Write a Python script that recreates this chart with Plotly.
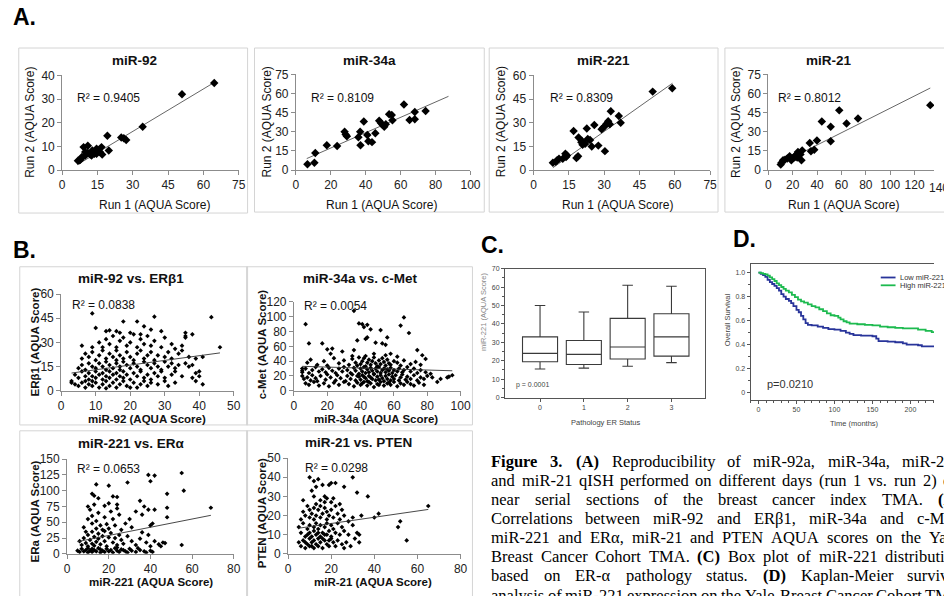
import plotly.graph_objects as go

W, H = 944, 596
def X(p): return p / W
def Y(p): return 1 - p / H

# ---------------- DATA ----------------
# Panel A: run 1 vs run 2 (AQUA score)
a92_run1 = [64.6, 50.9, 34.2, 25.1, 26.2, 27.2, 19.2, 19.8, 16.7, 16.0, 17.0, 14.6, 10.9, 9.1, 12.8, 13.7, 11.9, 10.9, 9.8, 8.4, 7.7, 6.7, 7.3, 8.4, 14.6, 12.5, 15.3, 9.8]
a92_run2 = [36.8, 32.0, 18.3, 13.8, 13.4, 12.7, 14.5, 8.3, 9.7, 7.6, 6.6, 9.0, 10.3, 9.7, 8.3, 6.9, 6.6, 7.2, 6.2, 5.5, 4.4, 3.9, 4.1, 5.2, 6.9, 6.2, 7.9, 7.6]
a34_run1 = [6.6, 10.6, 11.1, 17.7, 23.6, 27.9, 28.5, 29.2, 35.8, 36.8, 37.0, 38.9, 40.9, 41.5, 43.6, 45.5, 47.7, 48.7, 49.6, 50.6, 51.5, 53.4, 54.9, 55.3, 61.9, 65.1, 68.1, 68.1, 74.3]
a34_run2 = [4.6, 5.7, 13.4, 19.5, 18.8, 30.1, 27.8, 26.5, 25.7, 30.1, 19.5, 38.0, 27.5, 22.6, 21.9, 28.8, 38.6, 36.8, 35.5, 33.9, 36.0, 43.7, 43.2, 39.0, 51.4, 39.3, 45.5, 39.8, 46.3]
a221_run1 = [58.9, 50.6, 32.8, 36.2, 37.0, 31.7, 31.0, 32.4, 30.3, 28.9, 29.6, 30.3, 25.8, 22.6, 17.0, 19.1, 20.5, 20.3, 21.9, 23.0, 24.0, 24.7, 27.5, 20.8, 18.9, 18.2, 13.5, 13.8, 12.4, 14.2, 10.8, 9.4, 8.2, 10.0]
a221_run2 = [51.8, 49.7, 37.3, 34.2, 30.0, 31.0, 29.4, 29.0, 28.0, 25.9, 26.9, 12.0, 28.6, 26.3, 24.8, 20.7, 18.6, 17.6, 16.6, 19.7, 19.0, 14.9, 15.5, 16.0, 8.7, 7.7, 10.4, 8.3, 7.2, 9.3, 7.2, 5.2, 4.6, 6.2]
a21_run1 = [132.9, 73.6, 64.2, 58.2, 51.2, 51.2, 43.9, 39.9, 34.0, 37.7, 35.0, 27.8, 26.4, 24.3, 22.4, 21.0, 19.7, 17.5, 18.9, 15.6, 13.7, 12.1, 10.8, 10.2, 27.2, 23.7, 21.8]
a21_run2 = [50.9, 40.4, 36.5, 46.8, 33.9, 22.6, 38.0, 23.1, 21.3, 15.9, 14.7, 15.4, 12.3, 14.1, 11.6, 9.8, 9.0, 10.8, 7.7, 9.0, 8.2, 7.7, 5.7, 4.4, 7.7, 9.8, 10.3]
a_trend_x = [[6.5, 64.6], [6.2, 87.4], [8.2, 59.0], [10.2, 132.9]]
a_trend_y = [[2.3, 37.0], [9.0, 57.8], [1.5, 55.0], [5.3, 64.3]]
a_r2 = ["R² = 0.9405", "R² = 0.8109", "R² = 0.8309", "R² = 0.8012"]
a_titles = ["miR-92", "miR-34a", "miR-221", "miR-21"]

# Panel B: correlations
b1_mir92 = [3,3,4,5,6,7,7,8,9,9,10,11,12,13,13,14,15,16,17,18,19,20,21,22,23,24,25,26,28,30,31,33,
            4,5,6,7,8,8,9,10,10,11,12,12,13,14,14,15,16,16,17,18,18,19,20,21,22,23,24,25,26,27,28,29,30,32,33,35,38,39,39,40,41,40,
            5,6,7,8,9,10,11,12,13,13,14,15,16,17,17,18,19,20,21,22,23,24,25,26,27,28,29,30,31,32,33,34,36,37,38,
            6,7,8,9,10,11,12,13,14,15,16,16,17,18,19,20,21,22,23,24,25,26,27,28,30,31,32,34,35,37,39,
            6,9,11,12,13,14,15,16,17,18,19,20,21,22,23,24,25,26,27,29,30,32,35,36,33,
            9,10,13,14,16,17,18,20,22,23,24,26,27,29,36,36,38,43.5,46,41]
b1_erb1 = [5,6,4,3,5,2,6,4,3,6,5,2,4,6,1.5,3,5,2,4,6,3,2,5,2,4,6,3,5,4,6,3,5,
           10,8,12,9,11,7,9,12,8,10,7,11,9,12,8,10,7,11,9,12,8,10,7,11,9,12,8,10,7,11,9,12,8,10,12,9,8,6,11,12,4,9,
           14,16,13,17,15,14,17,15,13,18,16,14,17,15,13,18,16,14,17,15,13,18,16,14,17,15,13,18,15,17,14,16,17,15,16,
           20,23,21,24,19,22,25,20,23,21,19,25,22,20,24,21,19,23,25,20,22,24,19,22,21,24,20,23,25,21,20,
           28,27,30,27,32,29,34,27,31,33,28,30,35,27,32,29,34,28,31,27,33,29,28,33,26,
           48,39,37,37.5,37,36,43,36,43,35,40,38,46,37,36,34,35,45.7,27,21]

b2_mir34a = [36,7,39,41,44,42,46,52,64,66,69,56,38,43,44,9,17,20,23,22,36,29,49,53,55,74,77,79,86,93,95,92,5,5,
             7,9,12,15,18,21,24,27,30,33,36,38,40,42,44,46,48,50,52,54,56,58,60,62,64,66,68,70,72,75,78,41,45,51,57,
             5,6,8,10,11,13,14,16,19,20,22,25,26,28,31,32,34,35,37,39,40,41,43,44,45,47,48,49,50,51,52,53,54,55,56,57,58,59,60,61,63,64,65,67,68,70,72,74,76,78,80,83,88,46,42,38,
             5,7,9,11,13,15,17,19,21,23,25,27,29,30,32,34,36,37,39,40,41,42,43,44,45,46,47,48,49,50,51,52,53,54,55,56,57,58,59,60,62,63,65,66,68,70,72,74,76,79,82,
             8,10,14,18,20,24,27,30,33,35,37,38,39,40,41,42,43,44,45,46,47,48,49,50,51,52,53,54,55,56,57,58,60,62,64,66,70,73,76,48,55,43,35,58,62]
b2_cmet = [108,90,91,90,89,86,83,82,88,99,78,72,68,70,72,64,64,56,57,50,55,53,65,64,62,55,48,43,12,19,21,18,27,30,
           10,8,12,7,10,6,11,8,12,9,6,11,8,12,7,10,5,9,12,7,10,8,12,6,10,8,12,9,7,11,8,10,12,8,11,
           20,16,18,14,21,17,13,20,15,22,18,14,21,17,13,20,16,22,14,19,15,21,17,13,20,16,22,14,19,15,21,17,13,20,16,22,14,19,16,21,14,18,22,15,19,16,21,14,18,16,20,18,16,18,19,20,
           25,30,24,28,32,26,29,25,31,27,24,30,26,32,28,24,31,27,23,30,26,32,24,29,25,31,27,23,30,26,32,24,28,30,25,29,27,31,24,28,26,30,25,28,32,26,30,24,28,25,23,
           38,42,35,40,34,44,37,41,35,43,38,34,45,36,40,44,33,38,42,35,40,45,37,33,41,36,44,39,34,42,37,35,40,38,34,41,36,39,35,50,48,47,47,50,46]

b3_mir221 = [5,6,7,8,9,10,10,11,12,12,13,14,15,16,16,17,18,19,20,21,22,23,24,25,26,28,30,31,33,35,37,38,40,41,34,29,27,24,
             6,7,8,9,10,10,11,12,12,13,13,14,15,15,16,17,18,18,19,20,21,22,23,24,25,26,27,29,31,33,35,36,38,40,42,44,45,46,47,39,
             8,9,10,10,11,12,12,13,14,14,15,16,17,18,18,19,20,20,21,22,23,24,24,25,26,28,30,31,33,35,36,37,39,41,40,42,48,48,
             12,13,14,15,20,22,24,29,39,40,42,48,55,56,69,55]
b3_era = [5,3,8,4,6,2,9,5,3,8,6,4,9,2,7,5,3,8,4,6,2,9,5,3,7,4,8,5,3,6,4,2,5,3,9,2,6,10,
          20,14,25,17,30,12,22,16,35,27,13,19,32,24,15,28,20,36,12,26,33,18,25,14,30,22,16,28,20,14,24,34,18,12,20,15,12,18,17,30,
          42,35,55,75,70,60,48,78,40,52,65,45,38,76,58,47,80,40,67,55,45,78,72,62,38,48,55,42,67,84,62,75,70,48,45,70,58,73,
          95,92,110,88,108,91,90,113,125,115,124,95,128,100,73,14]

b4_mir21 = [5,6,7,8,9,10,10,11,12,12,13,14,14,15,16,17,18,19,20,21,22,23,25,26,27,29,31,33,8,11,16,19,
            5,6,7,8,9,10,10,11,12,12,13,13,14,15,15,16,17,17,18,19,20,20,21,22,23,24,25,26,28,30,32,33,51,52,55,9,14,18,
            6,7,8,9,10,10,11,12,12,13,14,15,15,16,17,18,18,19,20,21,22,23,24,25,26,28,30,34,40,42,65,
            7,10,11,12,12,13,14,15,16,17,18,19,20,21,22,26,30,32,37,13,17,20,24]
b4_pten = [6,4,7,3,5,8,4,6,3,7,5,8,4,6,3,7,5,4,8,6,4,7,5,3,6,4,8,6,6,4,8,7,
           14,11,16,9,13,11,15,9,14,12,10,16,13,9,15,11,14,10,16,12,9,15,13,11,16,10,14,12,10,15,11,10,14,17,7,10,11,10,
           18,22,20,25,19,23,21,24,18,20,23,19,25,21,24,18,22,20,23,19,25,21,18,23,20,17,19,20,19,21,25,
           28,40,33,30,38,26,39,28,36,30,29,36,37,29,37,35,40,32,30,35,27,27,26]

b_trend_x = [[3, 46], [5, 95], [5, 69], [5, 65]]
b_trend_y = [[11.0, 23.5], [33.0, 27.0], [19.3, 61.0], [13.4, 23.2]]
b_r2 = ["R² = 0.0838", "R² = 0.0054", "R² = 0.0653", "R² = 0.0298"]
b_titles = ["miR-92 vs. ERβ1", "miR-34a vs. c-Met", "miR-221 vs. ERα", "miR-21 vs. PTEN"]
b_xtitles = ["miR-92 (AQUA Score)", "miR-34a (AQUA Score)", "miR-221 (AQUA Score)", "miR-21 (AQUA Score)"]
b_ytitles = ["ERβ1 (AQUA Score)", "c-Met (AQUA Score)", "ERa (AQUA Score)", "PTEN (AQUA Score)"]

# Panel C: box plot of miR-221 by ER status
c_status = [0, 1, 2, 3]
c_low = [15.5, 16.0, 17.0, 19.0]
c_q1 = [19.5, 18.0, 21.0, 22.5]
c_median = [24.0, 23.5, 27.5, 33.0]
c_q3 = [33.0, 31.0, 43.0, 45.5]
c_high = [50.0, 46.5, 61.0, 60.5]

# Panel D: Kaplan-Meier
d_high_t = [0, 3, 6, 9, 12, 15, 18, 21, 24, 27, 30, 33, 36, 40, 44, 48, 52, 56, 60, 65, 70, 75, 80, 85, 90, 95, 100, 105, 108, 112, 116, 120, 130, 140, 150, 160, 170, 180, 190, 200, 210, 220, 228, 235]
d_high_s = [1.0, 0.995, 0.99, 0.985, 0.975, 0.96, 0.945, 0.93, 0.91, 0.895, 0.88, 0.865, 0.85, 0.835, 0.815, 0.795, 0.775, 0.76, 0.75, 0.735, 0.72, 0.71, 0.695, 0.68, 0.66, 0.645, 0.64, 0.625, 0.61, 0.595, 0.585, 0.575, 0.57, 0.565, 0.56, 0.55, 0.545, 0.54, 0.535, 0.535, 0.525, 0.515, 0.505, 0.50]
d_low_t = [0, 3, 6, 9, 12, 15, 18, 21, 24, 27, 30, 33, 36, 40, 43, 46, 50, 53, 56, 59, 62, 65, 70, 78, 85, 92, 100, 108, 115, 120, 125, 135, 150, 155, 158, 170, 180, 190, 195, 210, 215, 235]
d_low_s = [1.0, 0.99, 0.98, 0.965, 0.94, 0.92, 0.905, 0.89, 0.87, 0.85, 0.82, 0.80, 0.78, 0.765, 0.745, 0.72, 0.69, 0.67, 0.64, 0.61, 0.58, 0.565, 0.56, 0.55, 0.54, 0.53, 0.525, 0.515, 0.50, 0.49, 0.48, 0.475, 0.47, 0.45, 0.43, 0.425, 0.42, 0.41, 0.40, 0.395, 0.385, 0.38]

caption_lines = [
    ["*Figure", "*3.", "*(A)", "Reproducibility", "of", "miR-92a,", "miR-34a,", "miR-221"],
    ["and", "miR-21", "qISH", "performed", "on", "different", "days", "(run", "1", "vs.", "run", "2)", "on"],
    ["near", "serial", "sections", "of", "the", "breast", "cancer", "index", "TMA.", "*(B)"],
    ["Correlations", "between", "miR-92", "and", "ERβ1,", "miR-34a", "and", "c-Met,"],
    ["miR-221", "and", "ERα,", "miR-21", "and", "PTEN", "AQUA", "scores", "on", "the", "Yale"],
    ["Breast", "Cancer", "Cohort", "TMA.", "*(C)", "Box", "plot", "of", "miR-221", "distribution"],
    ["based", "on", "ER-α", "pathology", "status.", "*(D)", "Kaplan-Meier", "survival"],
    ["analysis", "of", "miR-221", "expression", "on", "the", "Yale", "Breast", "Cancer", "Cohort", "TMA."],
]

# ---------------- FIGURE ----------------
SANS = "Arial, Liberation Sans, sans-serif"
fig = go.Figure()
annotations = []
shapes = []

def ann(x, y, text, size, bold=False, color="#111", xanchor="center", angle=0, family=SANS, yanchor="middle"):
    if bold:
        text = "<b>" + text + "</b>"
    annotations.append(dict(x=X(x), y=Y(y), xref="paper", yref="paper", text=text, showarrow=False,
                            xanchor=xanchor, yanchor=yanchor, textangle=angle,
                            font=dict(size=size, color=color, family=family)))

def rect(x0, y0, x1, y1, color="#d4d4d4"):
    shapes.append(dict(type="rect", xref="paper", yref="paper", x0=X(x0), x1=X(x1), y0=Y(y1), y1=Y(y0),
                       line=dict(color=color, width=1), fillcolor="rgba(0,0,0,0)", layer="below"))

def excel_axes(i, xd, yd, xr, yr, xdt, ydt, tsize):
    common = dict(showline=True, linecolor="#8c8c8c", linewidth=1, ticks="outside", ticklen=4,
                  tickcolor="#8c8c8c", showgrid=False, zeroline=False,
                  tickfont=dict(size=tsize, color="#222", family=SANS))
    fig.layout["xaxis" + (str(i) if i > 1 else "")] = dict(domain=[X(xd[0]), X(xd[1])], range=xr, dtick=xdt, tick0=0,
                                                           anchor="y" + (str(i) if i > 1 else ""), **common)
    fig.layout["yaxis" + (str(i) if i > 1 else "")] = dict(domain=[Y(yd[1]), Y(yd[0])], range=yr, dtick=ydt, tick0=0,
                                                           anchor="x" + (str(i) if i > 1 else ""), **common)

def axid(i):
    return ("x" + (str(i) if i > 1 else ""), "y" + (str(i) if i > 1 else ""))

# ---- Panel A ----
ann(22, 10, "A.", 23, bold=True, color="#000")
a_x = [a92_run1, a34_run1, a221_run1, a21_run1]
a_y = [a92_run2, a34_run2, a221_run2, a21_run2]
a_boxes = [(16, 42, 248, 211), (255, 42, 488, 210), (493, 42, 725, 210), (732, 42, 960, 210)]
a_xdom = [(60, 239), (297, 474), (538, 717), (776, 944)]
a_ydom = [(70, 167), (69, 167), (70, 167), (69, 167)]
a_xr = [[0, 75], [0, 100], [0, 75], [0, 140 * (944 - 776) / (949 - 776)]]
a_yr = [[0, 40], [0, 75], [0, 60], [0, 75]]
a_xdt = [15, 20, 15, 20]
a_ydt = [10, 15, 15, 15]
a_tcx = [133, 372, 609, 838]
a_xtx = [154, 384, 623, 852]
a_ytx = [28, 268, 505, 743]
a_r2x = [73, 310, 553, 784]
for k in range(4):
    i = k + 1
    rect(*a_boxes[k])
    excel_axes(i, a_xdom[k], a_ydom[k], a_xr[k], a_yr[k], a_xdt[k], a_ydt[k], 12)
    xa, ya = axid(i)
    fig.add_trace(go.Scatter(x=a_trend_x[k], y=a_trend_y[k], mode="lines", xaxis=xa, yaxis=ya,
                             line=dict(color="#555", width=0.9), showlegend=False, cliponaxis=True))
    fig.add_trace(go.Scatter(x=a_x[k], y=a_y[k], mode="markers", xaxis=xa, yaxis=ya,
                             marker=dict(symbol="diamond", size=6.5, color="#000"), showlegend=False))
    ann(a_tcx[k], 55, a_titles[k], 13.5, bold=True)
    ann(a_xtx[k], 203, "Run 1 (AQUA Score)", 12)
    ann(a_ytx[k], 118, "Run 2 (AQUA Score)", 12, angle=-90)
    ann(a_r2x[k], 93, a_r2[k], 12, xanchor="left")
ann(949, 185, "140", 12, color="#222")

# ---- Panel B ----
ann(22, 249, "B.", 23, bold=True, color="#000")
b_x = [b1_mir92, b2_mir34a, b3_mir221, b4_mir21]
b_y = [b1_erb1, b2_cmet, b3_era, b4_pten]
b_boxes = [(17, 266, 248, 428), (247, 266, 476, 428), (17, 434, 248, 606), (247, 434, 476, 606)]
b_xdom = [(59, 234), (295, 464), (65, 234), (289, 464)]
b_ydom = [(294, 393), (302, 393), (463, 560), (462, 560)]
b_xr = [[0, 50], [0, 100], [0, 80], [0, 80]]
b_yr = [[0, 60], [0, 120], [0, 150], [0, 50]]
b_xdt = [10, 20, 20, 20]
b_ydt = [15, 20, 25, 10]
b_tc = [(130, 278), (362, 278), (130, 447), (360, 446)]
b_xt = [(146, 422), (378, 422), (150, 589), (375, 589)]
b_yt = [(32, 343), (263, 345), (32, 517), (262, 518)]
b_r2p = [(68, 305), (303, 306), (73, 473), (304, 472)]
for k in range(4):
    i = k + 5
    rect(*b_boxes[k])
    excel_axes(i, b_xdom[k], b_ydom[k], b_xr[k], b_yr[k], b_xdt[k], b_ydt[k], 12)
    xa, ya = axid(i)
    fig.add_trace(go.Scatter(x=b_x[k], y=b_y[k], mode="markers", xaxis=xa, yaxis=ya,
                             marker=dict(symbol="diamond", size=3.6, color="#000"), showlegend=False))
    fig.add_trace(go.Scatter(x=b_trend_x[k], y=b_trend_y[k], mode="lines", xaxis=xa, yaxis=ya,
                             line=dict(color="#333", width=0.9), showlegend=False))
    ann(b_tc[k][0], b_tc[k][1], b_titles[k], 13.5, bold=True)
    ann(b_xt[k][0], b_xt[k][1], b_xtitles[k], 11.5, bold=True)
    ann(b_yt[k][0], b_yt[k][1], b_ytitles[k], 11.5, bold=True, angle=-90)
    ann(b_r2p[k][0], b_r2p[k][1], b_r2[k], 12, xanchor="left")

# ---- Panel C ----
ann(496, 244, "C.", 23, bold=True, color="#000")
fig.add_trace(go.Box(x=c_status, q1=c_q1, median=c_median, q3=c_q3, lowerfence=c_low, upperfence=c_high,
                     width=0.8, whiskerwidth=0.3, boxpoints=False, fillcolor="white",
                     line=dict(color="#3a3a3a", width=1.1), xaxis="x9", yaxis="y9", showlegend=False))
fig.layout["xaxis9"] = dict(domain=[X(509), X(712)], range=[-0.8, 3.77], anchor="y9",
                            tickvals=[0, 1, 2, 3], ticks="outside", ticklen=3, tickcolor="#555",
                            showline=True, mirror=True, linecolor="#555", linewidth=1, showgrid=False, zeroline=False,
                            tickfont=dict(size=7, color="#444", family=SANS))
fig.layout["yaxis9"] = dict(domain=[Y(400), Y(268)], range=[0, 70], anchor="x9", dtick=10,
                            ticks="outside", ticklen=3, tickcolor="#555",
                            minor=dict(dtick=5, ticks="outside", ticklen=2, tickcolor="#555"),
                            showline=True, mirror=True, linecolor="#555", linewidth=1, showgrid=False, zeroline=False,
                            tickfont=dict(size=7, color="#444", family=SANS))
ann(518, 387, "p = 0.0001", 7, color="#444", xanchor="left")
ann(611, 425, "Pathology ER Status", 7.5, color="#444")
ann(487, 312, "miR-221 (AQUA Score)", 7.5, color="#888", angle=-90)

# ---- Panel D ----
ann(752, 238, "D.", 23, bold=True, color="#000")
fig.add_trace(go.Scatter(x=d_low_t, y=d_low_s, mode="lines", line=dict(color="#28349a", width=1.8, shape="hv"),
                         xaxis="x10", yaxis="y10", showlegend=False))
fig.add_trace(go.Scatter(x=d_high_t, y=d_high_s, mode="lines", line=dict(color="#1dba4f", width=1.8, shape="hv"),
                         xaxis="x10", yaxis="y10", showlegend=False))
fig.layout["xaxis10"] = dict(domain=[X(758), 1.0], range=[-10.4, 231], anchor="y10",
                             tickvals=[0, 50, 100, 150, 200, 250], ticks="outside", ticklen=3, tickcolor="#555",
                             minor=dict(dtick=10, tick0=0, ticks="outside", ticklen=2, tickcolor="#555"),
                             showline=True, mirror=True, linecolor="#555", linewidth=1, showgrid=False, zeroline=False,
                             tickfont=dict(size=7, color="#444", family=SANS))
fig.layout["yaxis10"] = dict(domain=[Y(402), Y(263)], range=[-0.057, 1.073], anchor="x10",
                             tickvals=[0, 0.2, 0.4, 0.6, 0.8, 1.0], ticktext=["0", "0.2", "0.4", "0.6", "0.8", "1.0"],
                             ticks="outside", ticklen=3, tickcolor="#555",
                             minor=dict(dtick=0.1, tick0=0, ticks="outside", ticklen=2, tickcolor="#555"),
                             showline=True, linecolor="#555", linewidth=1, showgrid=False, zeroline=False,
                             tickfont=dict(size=7, color="#444", family=SANS))
ann(735, 320, "Overall Survival", 7.5, color="#444", angle=-90)
ann(863, 427, "Time (months)", 7.5, color="#444")
ann(773, 386, "p=0.0210", 11, color="#333", xanchor="left")
shapes.append(dict(type="line", xref="paper", yref="paper", x0=X(890), x1=X(905), y0=Y(277), y1=Y(277),
                   line=dict(color="#28349a", width=1.8)))
shapes.append(dict(type="line", xref="paper", yref="paper", x0=X(890), x1=X(905), y0=Y(285), y1=Y(285),
                   line=dict(color="#1dba4f", width=1.8)))
ann(908, 277, "Low miR-221", 7.5, color="#333", xanchor="left")
ann(908, 285, "High miR-221", 7.5, color="#333", xanchor="left")

# ---- Caption (justified word placement, Times metrics) ----
TW = {' ': 250, 'a': 444, 'b': 500, 'c': 444, 'd': 500, 'e': 444, 'f': 333, 'g': 500, 'h': 500, 'i': 278, 'j': 278,
      'k': 500, 'l': 278, 'm': 778, 'n': 500, 'o': 500, 'p': 500, 'q': 500, 'r': 333, 's': 389, 't': 278, 'u': 500,
      'v': 500, 'w': 722, 'x': 500, 'y': 500, 'z': 444, 'A': 722, 'B': 667, 'C': 667, 'D': 722, 'E': 611, 'F': 556,
      'G': 722, 'H': 722, 'I': 333, 'J': 389, 'K': 722, 'L': 611, 'M': 889, 'N': 722, 'O': 722, 'P': 556, 'Q': 722,
      'R': 667, 'S': 556, 'T': 611, 'U': 722, 'V': 722, 'W': 944, 'X': 722, 'Y': 722, 'Z': 611, '.': 250, ',': 250,
      '-': 333, '(': 333, ')': 333, 'β': 500, 'α': 530}
TB = dict(TW)
TB.update({'F': 611, 'u': 556, 'r': 444, 'C': 722, 'D': 722})
CAP_FS = 16.5
CAP_L, CAP_R = 493, 968
cap_y = [465, 484.5, 504, 523.5, 543, 563, 582.5, 603]
for li, words in enumerate(caption_lines):
    widths = []
    for w in words:
        tb = TB if w.startswith("*") else TW
        ww = w.lstrip("*")
        widths.append(sum(tb.get(ch, 500) for ch in ww) / 1000 * CAP_FS)
    gap = max((CAP_R - CAP_L - sum(widths)) / (len(words) - 1), 0.25 * CAP_FS)
    xpos = CAP_L
    for w, wd in zip(words, widths):
        bold = w.startswith("*")
        ann(xpos, cap_y[li], w.lstrip("*"), CAP_FS, bold=bold, color="#000", xanchor="left",
            family="Liberation Serif, Times New Roman, serif")
        xpos += wd + gap

fig.update_layout(width=W, height=H, margin=dict(l=0, r=0, t=0, b=0), paper_bgcolor="white",
                  plot_bgcolor="white", annotations=annotations, shapes=shapes)
fig.write_html("out.html", config={"displayModeBar": False},
               post_script="document.body.style.margin='0';document.body.style.overflow='hidden';")
